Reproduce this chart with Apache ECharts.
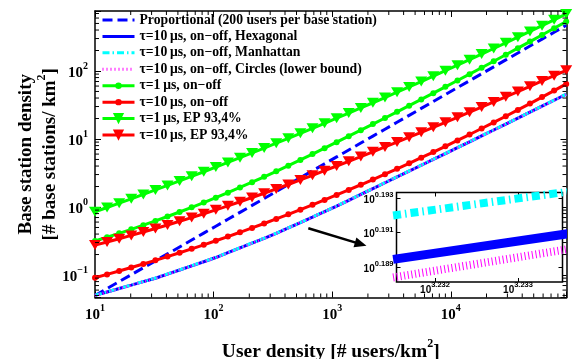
<!DOCTYPE html>
<html>
<head>
<meta charset="utf-8">
<script src="https://cdn.jsdelivr.net/npm/echarts@6.0.0/dist/echarts.min.js"></script>
<style>
html, body { margin: 0; padding: 0; background: #ffffff; }
#chart { width: 574px; height: 359px; }
</style>
</head>
<body>
<div id="chart"></div>
<script>
// ---------------- data ----------------
const userDensity = [10, 12.64, 15.99, 20.22, 25.56, 32.32, 40.86, 51.66, 65.32, 82.58,
  104.4, 132.0, 166.9, 211.0, 266.8, 337.4, 426.6, 539.3, 681.9, 862.1,
  1090, 1378, 1743, 2203, 2786, 3522, 4453, 5630, 7118, 9000,
  11380, 14390, 18190, 23000, 29080, 36770, 46490, 58780, 74310, 93960];

const proportional = [0.05, 0.0632, 0.07995, 0.1011, 0.1278, 0.1616, 0.2043, 0.2583, 0.3266, 0.4129,
  0.522, 0.660, 0.8345, 1.055, 1.334, 1.687, 2.133, 2.697, 3.410, 4.311,
  5.45, 6.89, 8.715, 11.02, 13.93, 17.61, 22.27, 28.15, 35.59, 45.0,
  56.9, 71.95, 90.95, 115.0, 145.4, 183.9, 232.5, 293.9, 371.6, 469.8];

const hexagonal = [0.0501, 0.0563, 0.0632, 0.0710, 0.0798, 0.0897, 0.1032, 0.1186, 0.1364, 0.1568,
  0.1807, 0.2127, 0.2503, 0.2944, 0.3465, 0.4090, 0.4915, 0.5906, 0.7097, 0.8531,
  1.030, 1.255, 1.530, 1.864, 2.272, 2.768, 3.373, 4.111, 5.008, 6.103,
  7.441, 9.09, 11.10, 13.56, 16.56, 20.24, 24.79, 30.35, 37.15, 45.5];

const manhattan = [0.0504, 0.0566, 0.0635, 0.0714, 0.0802, 0.0902, 0.1038, 0.1193, 0.1372, 0.1577,
  0.1817, 0.2139, 0.2517, 0.2960, 0.3484, 0.4112, 0.4942, 0.5938, 0.7136, 0.8578,
  1.036, 1.262, 1.538, 1.874, 2.284, 2.783, 3.392, 4.134, 5.036, 6.137,
  7.482, 9.14, 11.16, 13.63, 16.65, 20.35, 24.93, 30.52, 37.35, 45.75];

const circles = [0.0500, 0.0562, 0.0631, 0.0708, 0.0796, 0.0895, 0.1030, 0.1183, 0.1361, 0.1564,
  0.1803, 0.2122, 0.2497, 0.2937, 0.3457, 0.4081, 0.4904, 0.5892, 0.7081, 0.8511,
  1.028, 1.252, 1.526, 1.860, 2.267, 2.762, 3.365, 4.102, 4.996, 6.089,
  7.424, 9.069, 11.07, 13.53, 16.52, 20.19, 24.73, 30.28, 37.06, 45.40];

const onOff1us = [0.316, 0.3593, 0.4101, 0.4697, 0.5406, 0.6247, 0.7249, 0.8449, 0.9888, 1.162,
  1.372, 1.626, 1.936, 2.314, 2.778, 3.349, 4.054, 4.930, 6.006, 7.335,
  8.987, 11.00, 13.49, 16.56, 20.37, 25.07, 30.91, 38.15, 47.18, 58.41,
  72.41, 89.87, 111.7, 139.1, 173.4, 216.4, 270.5, 338.5, 424.5, 532.5];

const onOff10us = [0.0912, 0.1020, 0.1144, 0.1287, 0.1453, 0.1644, 0.1866, 0.2125, 0.2426, 0.2779,
  0.3192, 0.3677, 0.4248, 0.4923, 0.5724, 0.6673, 0.7800, 0.9147, 1.076, 1.269,
  1.504, 1.785, 2.124, 2.536, 3.037, 3.647, 4.391, 5.304, 6.427, 7.809,
  9.517, 11.63, 14.27, 17.54, 21.62, 26.75, 33.19, 41.29, 51.52, 64.50];

const ep1us = [0.851, 0.984, 1.139, 1.320, 1.532, 1.782, 2.074, 2.417, 2.822, 3.299,
  3.862, 4.527, 5.314, 6.249, 7.356, 8.675, 10.24, 12.10, 14.33, 16.99,
  20.21, 24.03, 28.62, 34.11, 40.72, 48.70, 58.31, 69.93, 83.98, 100.9,
  121.6, 146.6, 177.0, 214.1, 259.3, 314.4, 381.7, 464.4, 565.3, 689.4];

const ep10us = [0.2754, 0.3063, 0.3417, 0.3822, 0.4285, 0.4824, 0.5442, 0.6161, 0.6991, 0.7962,
  0.9091, 1.041, 1.196, 1.378, 1.592, 1.845, 2.144, 2.499, 2.921, 3.417,
  4.008, 4.699, 5.518, 6.486, 7.634, 8.999, 10.62, 12.54, 14.84, 17.58,
  20.84, 24.75, 29.44, 35.04, 41.76, 49.85, 59.55, 71.25, 85.36, 102.4];

// zoomed inset (values near 10^3.232 users/km^2)
const insetUserDensity = [1704.1, 1712.4];
const insetHexagonal = [1.54682, 1.55214];
const insetManhattan = [1.55593, 1.56089];
const insetCircles = [1.54310, 1.54895];
const insetXTickExponents = [3.232, 3.233];
const insetYTickExponents = [0.189, 0.191, 0.193];

const minorMultipliers = [2, 3, 4, 5, 6, 7, 8, 9];

// arrow annotation (data coordinates)
const arrowFrom = [628.7, 0.4861];
const arrowTo = [1739, 0.2847];

const seriesNames = [
  'Proportional (200 users per base station)',
  'τ=10\u2009μs, on\u2212off, Hexagonal',
  'τ=10\u2009μs, on\u2212off, Manhattan',
  'τ=10\u2009μs, on\u2212off, Circles (lower bound)',
  'τ=1\u2009μs, on\u2212off',
  'τ=10\u2009μs, on\u2212off',
  'τ=1\u2009μs, EP 93,4%',
  'τ=10\u2009μs, EP 93,4%'
];

// ---------------- chart ----------------
const SERIF = "'Liberation Serif', 'Times New Roman', serif";
const SANS = "'Liberation Sans', Arial, sans-serif";
const X_MIN = 10, X_MAX = 94500, Y_MIN = 0.0467, Y_MAX = 762;
const IX_MIN = 3.231536, IX_MAX = 3.233536, IY_MIN = 0.18813, IY_MAX = 0.193319;

function pairs(xs, ys) { return xs.map((x, i) => [x, ys[i]]); }
function logPairs(xs, ys) { return xs.map((x, i) => [Math.log10(x), Math.log10(ys[i])]); }

const xMinor = [], yMinor = [];
for (let e = -2; e <= 5; e++) {
  minorMultipliers.forEach(m => {
    const v = m * Math.pow(10, e);
    if (v > X_MIN && v < X_MAX) xMinor.push(v);
    if (v > Y_MIN && v < Y_MAX) yMinor.push(v);
  });
}

function powerLabel(v) {
  const e = Math.log10(v);
  const r = Math.round(e);
  if (Math.abs(e - r) > 1e-6) return '';
  return '{b|10}{s|' + (r < 0 ? '\u2212' + (-r) : String(r)) + '}';
}
function insetLabelFactory(list) {
  return function (v) {
    const hit = list.find(t => Math.abs(t - v) < 1e-7);
    if (hit === undefined) return '';
    return '{b|10}{s|' + hit.toFixed(3) + '}';
  };
}

// equal token heights so that the superscript offset does not depend on token alignment
const mainRich = {
  b: { fontFamily: SERIF, fontWeight: 'bold', fontSize: 15, lineHeight: 15, color: '#000', padding: [5, 0, 0, 0] },
  s: { fontFamily: SERIF, fontWeight: 'bold', fontSize: 10, lineHeight: 10, color: '#000', padding: [0, 0, 10, 0] }
};
const insetRich = {
  b: { fontFamily: SANS, fontWeight: 'bold', fontSize: 10, lineHeight: 10, color: '#000', padding: [4, 0, 0, 0] },
  s: { fontFamily: SANS, fontWeight: 'bold', fontSize: 7.5, lineHeight: 8, color: '#000', padding: [0, 0, 6, 0] }
};
const axisLineStyle = { show: true, onZero: false, lineStyle: { color: '#000', width: 1.5 } };
const majorTick = { show: true, inside: true, length: 6, lineStyle: { color: '#000', width: 1 } };

function tickLine(x1, y1, x2, y2) {
  return { type: 'line', shape: { x1: x1, y1: y1, x2: x2, y2: y2 }, style: { stroke: '#000', lineWidth: 1 } };
}

function lineSeries(idx, values, color, width, type, extra) {
  return Object.assign({
    type: 'line', name: seriesNames[idx], xAxisIndex: 0, yAxisIndex: 0,
    data: pairs(userDensity, values), symbol: 'none', silent: true,
    lineStyle: { color: color, width: width, type: type },
    itemStyle: { color: color }, emphasis: { disabled: true }, z: 2
  }, extra || {});
}
function insetSeries(name, values, color, width, type) {
  return {
    type: 'line', name: name, xAxisIndex: 2, yAxisIndex: 2,
    data: logPairs(insetUserDensity, values), symbol: 'none', silent: true,
    lineStyle: { color: color, width: width, type: type }, itemStyle: { color: color },
    emphasis: { disabled: true }, z: 7, clip: true
  };
}

const legendText = { fontFamily: SERIF, fontWeight: 'bold', fontSize: 13.7, color: '#000', lineHeight: 14 };

const option = {
  animation: false,
  backgroundColor: '#ffffff',
  textStyle: { fontFamily: SERIF },
  grid: [
    { left: 95, top: 11, right: 7.5, bottom: 61.5, containLabel: false, outerBoundsMode: 'none' },
    { left: 396.5, top: 192.5, width: 166, height: 89.5, containLabel: false, outerBoundsMode: 'none',
      show: true, backgroundColor: '#ffffff', borderColor: '#000', borderWidth: 1.5, z: 5 }
  ],
  legend: [
    {
      orient: 'vertical', left: 101, top: 13, padding: 0, itemWidth: 32, itemHeight: 8, itemGap: 2.43,
      selectedMode: false, textStyle: legendText, lineStyle: { width: 'inherit' },
      data: [0, 1, 2, 3].map(i => ({ name: seriesNames[i], itemStyle: { opacity: 0 } }))
        .concat([4, 5].map(i => ({ name: seriesNames[i] })))
    },
    {
      orient: 'vertical', left: 101, top: 111.6, padding: 0, itemWidth: 32, itemHeight: 14, itemGap: 2.43,
      selectedMode: false, textStyle: legendText, lineStyle: { width: 'inherit' },
      data: [6, 7].map(i => ({ name: seriesNames[i] }))
    }
  ],
  xAxis: [
    {
      type: 'log', logBase: 10, gridIndex: 0, min: X_MIN, max: X_MAX, position: 'bottom',
      axisLine: axisLineStyle, axisTick: majorTick, splitLine: { show: false }, minorTick: { show: false },
      axisLabel: { show: true, margin: 8, formatter: powerLabel, rich: mainRich },
      name: '{n|User density [# users/km}{s|2}{n|]}', nameLocation: 'middle', nameGap: 42, nameMoveOverlap: false,
      nameTextStyle: {
        rich: {
          n: { fontFamily: SERIF, fontWeight: 'bold', fontSize: 19.5, lineHeight: 22, color: '#000', padding: [3, 0, 0, 0] },
          s: { fontFamily: SERIF, fontWeight: 'bold', fontSize: 12, lineHeight: 12, color: '#000', padding: [0, 0, 13, 0] }
        }
      }
    },
    {
      type: 'log', logBase: 10, gridIndex: 0, min: X_MIN, max: X_MAX, position: 'top',
      axisLine: axisLineStyle, axisTick: majorTick, splitLine: { show: false }, axisLabel: { show: false }
    },
    {
      type: 'value', gridIndex: 1, min: IX_MIN, max: IX_MAX, position: 'bottom', z: 7,
      axisLine: { show: false }, splitLine: { show: false },
      axisTick: { show: true, inside: true, length: 4, customValues: insetXTickExponents, lineStyle: { color: '#000', width: 1 } },
      axisLabel: { show: true, margin: 1, customValues: insetXTickExponents, formatter: insetLabelFactory(insetXTickExponents), rich: insetRich }
    },
    {
      type: 'value', gridIndex: 1, min: IX_MIN, max: IX_MAX, position: 'top', z: 7,
      axisLine: { show: false }, splitLine: { show: false }, axisLabel: { show: false },
      axisTick: { show: true, inside: true, length: 4, customValues: insetXTickExponents, lineStyle: { color: '#000', width: 1 } }
    }
  ],
  yAxis: [
    {
      type: 'log', logBase: 10, gridIndex: 0, min: Y_MIN, max: Y_MAX, position: 'left',
      axisLine: axisLineStyle, axisTick: majorTick, splitLine: { show: false }, minorTick: { show: false },
      axisLabel: { show: true, margin: 7, formatter: powerLabel, rich: mainRich },
      name: '{n|Base station density}\n{m|[# base stations/ km}{s|2}{m|]}', nameLocation: 'middle', nameGap: 35.5, nameRotate: 90,
      nameMoveOverlap: false,
      nameTextStyle: {
        rich: {
          n: { fontFamily: SERIF, fontWeight: 'bold', fontSize: 19, lineHeight: 22, color: '#000' },
          m: { fontFamily: SERIF, fontWeight: 'bold', fontSize: 19, lineHeight: 22, color: '#000', padding: [3, 0, 0, 0] },
          s: { fontFamily: SERIF, fontWeight: 'bold', fontSize: 12, lineHeight: 12, color: '#000', padding: [0, 0, 13, 0] }
        }
      }
    },
    {
      type: 'log', logBase: 10, gridIndex: 0, min: Y_MIN, max: Y_MAX, position: 'right',
      axisLine: axisLineStyle, axisTick: majorTick, splitLine: { show: false }, axisLabel: { show: false }
    },
    {
      type: 'value', gridIndex: 1, min: IY_MIN, max: IY_MAX, position: 'left', z: 7,
      axisLine: { show: false }, splitLine: { show: false },
      axisTick: { show: true, inside: true, length: 4, customValues: insetYTickExponents, lineStyle: { color: '#000', width: 1 } },
      axisLabel: { show: true, margin: 3, customValues: insetYTickExponents, formatter: insetLabelFactory(insetYTickExponents), rich: insetRich }
    },
    {
      type: 'value', gridIndex: 1, min: IY_MIN, max: IY_MAX, position: 'right', z: 7,
      axisLine: { show: false }, splitLine: { show: false }, axisLabel: { show: false },
      axisTick: { show: true, inside: true, length: 4, customValues: insetYTickExponents, lineStyle: { color: '#000', width: 1 } }
    }
  ],
  series: [
    lineSeries(0, proportional, '#0000ff', 3, [10, 5], {
      markLine: {
        silent: true, symbol: ['none', 'triangle'], symbolSize: [10, 12],
        lineStyle: { color: '#000', width: 2.5, type: 'solid' },
        itemStyle: { color: '#000' },
        label: { show: false }, emphasis: { disabled: true },
        data: [[{ coord: arrowFrom }, { coord: arrowTo }]]
      }
    }),
    lineSeries(1, hexagonal, '#0000ff', 3, 'solid'),
    lineSeries(2, manhattan, '#00ffff', 3, [7, 3, 1.5, 3]),
    lineSeries(3, circles, '#ff00ff', 3, [1, 3]),
    lineSeries(4, onOff1us, '#00ff00', 3, 'solid', { symbol: 'circle', symbolSize: 6, showSymbol: true }),
    lineSeries(5, onOff10us, '#ff0000', 3, 'solid', { symbol: 'circle', symbolSize: 6, showSymbol: true }),
    lineSeries(6, ep1us, '#00ff00', 3, 'solid', { symbol: 'triangle', symbolSize: [12, 10], symbolRotate: 180, showSymbol: true }),
    lineSeries(7, ep10us, '#ff0000', 3, 'solid', { symbol: 'triangle', symbolSize: [12, 10], symbolRotate: 180, showSymbol: true }),
    insetSeries('inset hexagonal', insetHexagonal, '#0000ff', 9, 'solid'),
    insetSeries('inset manhattan', insetManhattan, '#00ffff', 8, [8, 4, 1.5, 4]),
    insetSeries('inset circles', insetCircles, '#ff00ff', 8, [1, 2.7]),
    {
      type: 'custom', name: 'x minor ticks', xAxisIndex: 0, yAxisIndex: 0, silent: true, z: 3,
      data: xMinor.map(v => [v, Y_MIN]),
      renderItem: function (params, api) {
        const cs = params.coordSys;
        const x = api.coord([api.value(0), Y_MIN])[0];
        const b = cs.y + cs.height, t = cs.y;
        return { type: 'group', children: [tickLine(x, b, x, b - 4), tickLine(x, t, x, t + 4)] };
      }
    },
    {
      type: 'custom', name: 'y minor ticks', xAxisIndex: 0, yAxisIndex: 0, silent: true, z: 3,
      data: yMinor.map(v => [X_MIN, v]),
      renderItem: function (params, api) {
        const cs = params.coordSys;
        const y = api.coord([X_MIN, api.value(1)])[1];
        const l = cs.x, r = cs.x + cs.width;
        return { type: 'group', children: [tickLine(l, y, l + 4, y), tickLine(r, y, r - 4, y)] };
      }
    }
  ]
};

const chart = echarts.init(document.getElementById('chart'), null, { renderer: 'canvas', width: 574, height: 359 });
chart.setOption(option);
</script>
</body>
</html>
